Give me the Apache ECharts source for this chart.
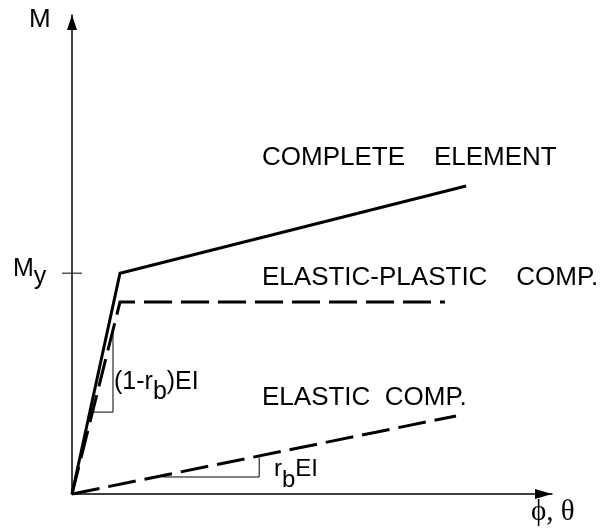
<!DOCTYPE html>
<html>
<head>
<meta charset="utf-8">
<script src="https://cdn.jsdelivr.net/npm/echarts@6/dist/echarts.min.js"></script>
<style>
html,body{margin:0;padding:0;background:#fff;}
#c{width:604px;height:529px;}
</style>
</head>
<body>
<div id="c"></div>
<script>
// ---- data (arbitrary units: phi/theta 0..100, M 0..100) ----
const completeElement = [[0, 0], [10, 46.1], [82.1, 64.3]];
const elasticPlastic = [[0, 0], [10, 40.1], [77.7, 40.1]];
const elasticComp = [[0, 0], [80, 16.3]];
const slopeTriangle1 = [[4.4, 17.1], [8.54, 17.1], [8.54, 33.6]];
const slopeTriangle2 = [[19, 3.55], [39, 3.55], [39, 7.7]];
const yieldMoment = 46.1;
const axisMax = [100, 100];

const FONT = '"Liberation Sans", Arial, sans-serif';
const SERIF = '"Liberation Serif", "Times New Roman", serif';

const chart = echarts.init(document.getElementById('c'), null, {renderer: 'canvas'});

function lineSeries(data, width, type) {
  return {
    type: 'line', data: data, showSymbol: false, symbol: 'none', silent: true,
    animation: false, clip: false,
    lineStyle: {color: '#000', width: width, type: type, cap: 'butt', join: 'miter'}
  };
}

const option = {
  animation: false,
  backgroundColor: '#fff',
  grid: {left: 72, right: 52, top: 15, bottom: 35, containLabel: false},
  xAxis: {
    type: 'value', min: 0, max: axisMax[0],
    axisLine: {show: true, onZero: false, lineStyle: {color: '#000', width: 1.5},
      symbol: ['none', 'triangle'], symbolSize: [10, 17], symbolOffset: [0, -8.5]},
    axisTick: {show: false}, axisLabel: {show: false}, splitLine: {show: false}
  },
  yAxis: {
    type: 'value', min: 0, max: axisMax[1],
    axisLine: {show: true, onZero: false, lineStyle: {color: '#000', width: 1.5},
      symbol: ['none', 'triangle'], symbolSize: [10, 15], symbolOffset: [0, -7.5]},
    axisTick: {show: false}, axisLabel: {show: false}, splitLine: {show: false}
  },
  series: [
    lineSeries(completeElement, 3, 'solid'),
    lineSeries(elasticPlastic, 3, [28, 9]),
    lineSeries(elasticComp, 3, [28, 9]),
    lineSeries(slopeTriangle1, 1, 'solid'),
    lineSeries(slopeTriangle2, 1, 'solid')
  ]
};
chart.setOption(option);

const tick = chart.convertToPixel({gridIndex: 0}, [0, yieldMoment]);

function subText(x, y, parts, size, d) {
  return {
    type: 'text', x: x, y: y, silent: true,
    style: {
      text: parts.map(p => '{' + p[0] + '|' + p[1] + '}').join(''),
      verticalAlign: 'top', align: 'left',
      rich: {
        n: {fontFamily: FONT, fontSize: size, lineHeight: size, verticalAlign: 'top', fill: '#000'},
        s: {fontFamily: FONT, fontSize: size, lineHeight: size + d, verticalAlign: 'bottom', fill: '#000'}
      }
    }
  };
}
function plain(x, y, text, size, family) {
  return {type: 'text', x: x, y: y, silent: true,
    style: {text: text, fontFamily: family || FONT, fontSize: size, fill: '#000', verticalAlign: 'middle', align: 'left'}};
}

chart.setOption({
  graphic: [
    {type: 'line', silent: true, shape: {x1: tick[0] - 10, y1: tick[1], x2: tick[0] + 10, y2: tick[1]},
     style: {stroke: '#000', lineWidth: 1}},
    plain(29, 20, 'M', 26),
    subText(13, 257, [['n', 'M'], ['s', 'y']], 25, 8),
    plain(262, 158, 'COMPLETE    ELEMENT', 26),
    plain(262, 278, 'ELASTIC-PLASTIC    COMP.', 26),
    plain(262, 398, 'ELASTIC  COMP.', 26),
    subText(114, 370, [['n', '(1-r'], ['s', 'b'], ['n', ')EI']], 25, 10),
    subText(274, 457, [['n', 'r'], ['s', 'b'], ['n', 'EI']], 24, 11),
    plain(531, 512, 'ϕ, θ', 29, SERIF)
  ]
});
</script>
</body>
</html>
